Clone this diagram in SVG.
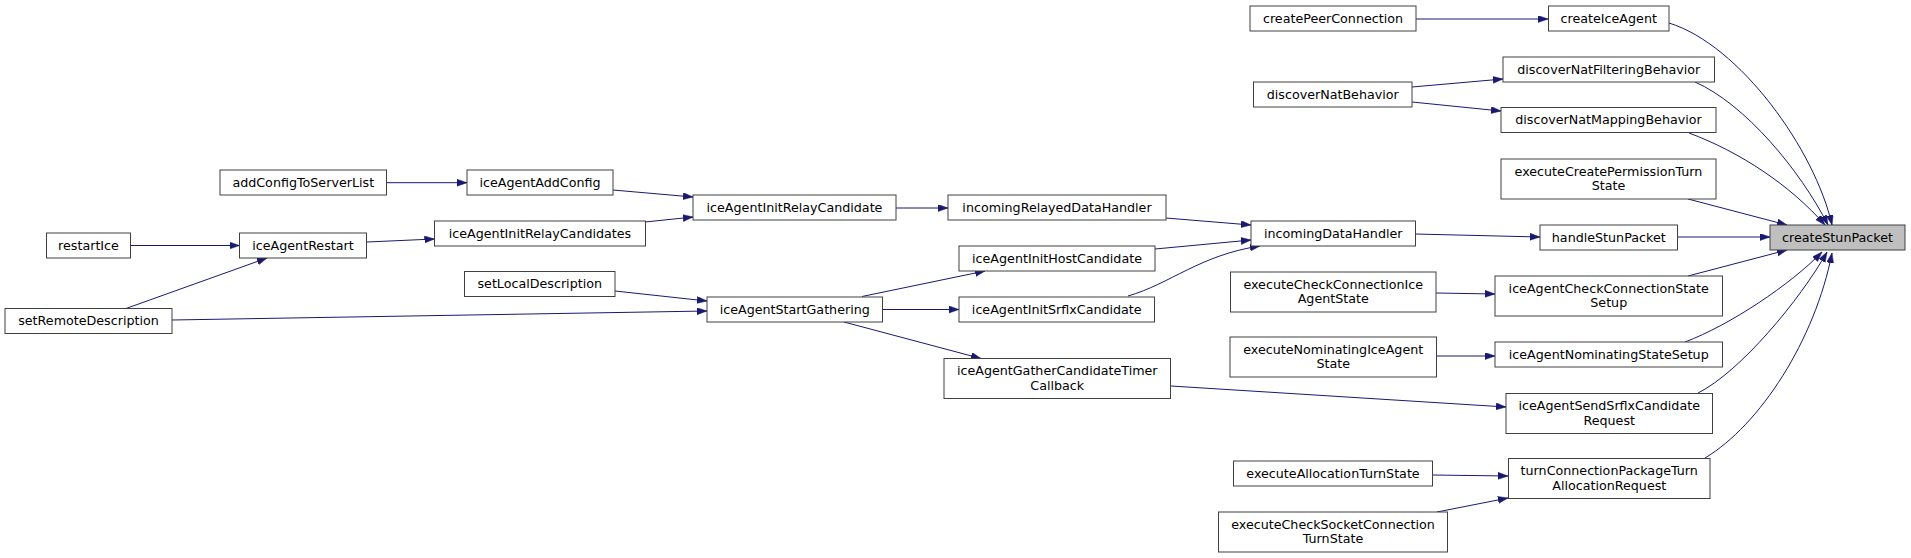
<svg xmlns="http://www.w3.org/2000/svg" width="1911" height="558" viewBox="0 0 1911 558">
<style>
.n rect{fill:#ffffff;stroke:#404040;stroke-width:1}
.n.hl rect{fill:#bfbfbf}
.n text{font-family:"DejaVu Sans","Liberation Sans",sans-serif;font-size:12.7px;fill:#000000;text-anchor:middle}
#edges path{fill:none;stroke:#191970;stroke-width:1;marker-end:url(#arr)}
</style>
<defs>
<marker id="arr" markerUnits="userSpaceOnUse" markerWidth="11" markerHeight="8" refX="10" refY="3.5" orient="auto">
<path d="M0,0 L10,3.5 L0,7 z" fill="#191970" stroke="#191970" stroke-width="0.5"/>
</marker>
</defs>
<rect width="1911" height="558" fill="#ffffff"/>
<g id="edges">
<path d="M1416,19 L1548,19"/>
<path d="M1669,23 C1740,45 1815,150 1832,225"/>
<path d="M1412,87 L1503,79"/>
<path d="M1412,102 L1501,111"/>
<path d="M1695,82 C1745,104 1800,170 1828,225"/>
<path d="M1689,133 C1740,152 1790,185 1825,225"/>
<path d="M1688,199 L1787,225"/>
<path d="M1678,237 L1770,237"/>
<path d="M1688,276 L1787,250"/>
<path d="M1685,342 C1730,325 1790,285 1822,252"/>
<path d="M1698,393 C1740,372 1800,300 1827,252"/>
<path d="M1705,458 C1760,425 1815,340 1832,253"/>
<path d="M1415,234 L1540,237"/>
<path d="M1166,218 L1251,225"/>
<path d="M1155,249 L1251,240"/>
<path d="M1128,296 C1170,284 1200,255 1260,246"/>
<path d="M1436,293 L1495,294"/>
<path d="M1437,356 L1495,356"/>
<path d="M1171,386 L1506,407"/>
<path d="M1433,475 L1508,476"/>
<path d="M1437,512 L1508,498"/>
<path d="M896,208 L948,208"/>
<path d="M613,190 L693,197"/>
<path d="M645,222 L693,217"/>
<path d="M386.5,182.7 L467,182.7"/>
<path d="M367,242 L434.5,239"/>
<path d="M131,245.5 L239.5,245.5"/>
<path d="M126,308.5 L267,258"/>
<path d="M172,320 L707,311"/>
<path d="M615,291 L707,301"/>
<path d="M862,296.5 L985,271"/>
<path d="M882.5,309.5 L959,309.5"/>
<path d="M844,322 L981,358.5"/>
</g>
<g id="createStunPacket" class="n hl"><rect x="1770" y="225" width="135" height="25"/><text x="1837.5" y="241.6">createStunPacket</text></g>
<g id="createIceAgent" class="n"><rect x="1548.5" y="6" width="120.5" height="25"/><text x="1608.75" y="22.6">createIceAgent</text></g>
<g id="createPeerConnection" class="n"><rect x="1250" y="6" width="166" height="25"/><text x="1333" y="22.6">createPeerConnection</text></g>
<g id="discoverNatFilteringBehavior" class="n"><rect x="1503" y="57" width="211.5" height="25"/><text x="1608.75" y="73.6">discoverNatFilteringBehavior</text></g>
<g id="discoverNatBehavior" class="n"><rect x="1253.5" y="82" width="158.5" height="25"/><text x="1332.75" y="98.6">discoverNatBehavior</text></g>
<g id="discoverNatMappingBehavior" class="n"><rect x="1501" y="107.5" width="215" height="25"/><text x="1608.5" y="124.1">discoverNatMappingBehavior</text></g>
<g id="executeCreatePermissionTurnState" class="n"><rect x="1501" y="159" width="215" height="40"/><text x="1608.5" y="175.5">executeCreatePermissionTurn</text><text x="1608.5" y="190">State</text></g>
<g id="handleStunPacket" class="n"><rect x="1540" y="225" width="137.5" height="25"/><text x="1608.75" y="241.6">handleStunPacket</text></g>
<g id="incomingDataHandler" class="n"><rect x="1251" y="221" width="164.5" height="25"/><text x="1333.25" y="237.6">incomingDataHandler</text></g>
<g id="incomingRelayedDataHandler" class="n"><rect x="948" y="195" width="218" height="25"/><text x="1057" y="211.6">incomingRelayedDataHandler</text></g>
<g id="iceAgentInitHostCandidate" class="n"><rect x="959" y="246" width="196" height="25"/><text x="1057" y="262.6">iceAgentInitHostCandidate</text></g>
<g id="iceAgentInitSrflxCandidate" class="n"><rect x="959" y="297" width="195.5" height="25"/><text x="1056.75" y="313.6">iceAgentInitSrflxCandidate</text></g>
<g id="iceAgentInitRelayCandidate" class="n"><rect x="693" y="195" width="203" height="25"/><text x="794.5" y="211.6">iceAgentInitRelayCandidate</text></g>
<g id="iceAgentStartGathering" class="n"><rect x="707" y="297" width="175.5" height="25"/><text x="794.75" y="313.6">iceAgentStartGathering</text></g>
<g id="iceAgentGatherCandidateTimerCallback" class="n"><rect x="944" y="358.5" width="226.5" height="40"/><text x="1057.25" y="375">iceAgentGatherCandidateTimer</text><text x="1057.25" y="389.5">Callback</text></g>
<g id="iceAgentAddConfig" class="n"><rect x="467" y="170" width="146" height="25"/><text x="540" y="186.6">iceAgentAddConfig</text></g>
<g id="iceAgentInitRelayCandidates" class="n"><rect x="434.5" y="221" width="211" height="25"/><text x="540" y="237.6">iceAgentInitRelayCandidates</text></g>
<g id="addConfigToServerList" class="n"><rect x="220" y="170" width="166.5" height="25"/><text x="303.25" y="186.6">addConfigToServerList</text></g>
<g id="iceAgentRestart" class="n"><rect x="239.5" y="233" width="127" height="25"/><text x="303" y="249.6">iceAgentRestart</text></g>
<g id="restartIce" class="n"><rect x="46.5" y="233" width="84" height="25"/><text x="88.5" y="249.6">restartIce</text></g>
<g id="setRemoteDescription" class="n"><rect x="5" y="308.5" width="167" height="25"/><text x="88.5" y="325.1">setRemoteDescription</text></g>
<g id="setLocalDescription" class="n"><rect x="464.5" y="271.5" width="150.5" height="25"/><text x="539.75" y="288.1">setLocalDescription</text></g>
<g id="executeCheckConnectionIceAgentState" class="n"><rect x="1230.5" y="272" width="205.5" height="40"/><text x="1333.25" y="288.5">executeCheckConnectionIce</text><text x="1333.25" y="303">AgentState</text></g>
<g id="iceAgentCheckConnectionStateSetup" class="n"><rect x="1495" y="276" width="227.5" height="40"/><text x="1608.75" y="292.5">iceAgentCheckConnectionState</text><text x="1608.75" y="307">Setup</text></g>
<g id="executeNominatingIceAgentState" class="n"><rect x="1230" y="337" width="206.5" height="40"/><text x="1333.25" y="353.5">executeNominatingIceAgent</text><text x="1333.25" y="368">State</text></g>
<g id="iceAgentNominatingStateSetup" class="n"><rect x="1495" y="342" width="227.5" height="25"/><text x="1608.75" y="358.6">iceAgentNominatingStateSetup</text></g>
<g id="iceAgentSendSrflxCandidateRequest" class="n"><rect x="1506" y="393.5" width="206.5" height="40"/><text x="1609.25" y="410">iceAgentSendSrflxCandidate</text><text x="1609.25" y="424.5">Request</text></g>
<g id="executeAllocationTurnState" class="n"><rect x="1233.5" y="461" width="199" height="25"/><text x="1333" y="477.6">executeAllocationTurnState</text></g>
<g id="turnConnectionPackageTurnAllocationRequest" class="n"><rect x="1508.5" y="458.5" width="201.5" height="40"/><text x="1609.25" y="475">turnConnectionPackageTurn</text><text x="1609.25" y="489.5">AllocationRequest</text></g>
<g id="executeCheckSocketConnectionTurnState" class="n"><rect x="1218.5" y="512" width="229" height="40"/><text x="1333" y="528.5">executeCheckSocketConnection</text><text x="1333" y="543">TurnState</text></g>
</svg>
